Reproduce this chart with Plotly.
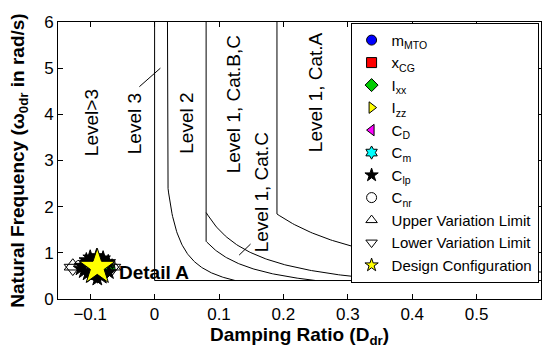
import numpy as np
import plotly.graph_objects as go

# ---- Flying-quality requirement limits (MIL-F-8785C, dutch roll) ----
req_names = ["Level 3", "Level 2", "Level 1, Cat.C", "Level 1, Cat.B,C", "Level 1, Cat.A"]
req_zeta_min = [0.0, 0.02, 0.08, 0.08, 0.19]
req_zw_min = [None, 0.05, 0.10, 0.15, 0.35]
req_w_min = [0.4, 0.4, 0.4, 0.4, 0.4]
req_w_top = [6.0, 6.0, 1.875, 6.0, 6.0]

# ---- Region labels ----
label_text = ["Level>3", "Level 3", "Level 2", "Level 1, Cat.B,C", "Level 1, Cat.C", "Level 1, Cat.A"]
label_x = [-0.098, -0.031, 0.049, 0.122, 0.166, 0.249]
label_y = [3.82, 3.80, 3.80, 4.22, 2.30, 4.48]

# leader lines (label end -> target)
leader_x0 = [-0.026, 0.129]
leader_y0 = [4.57, 0.92]
leader_x1 = [0.009, 0.149]
leader_y1 = [5.00, 1.19]

# ---- Sensitivity points (Detail A) ----
params = ["m<sub>MTO</sub>", "x<sub>CG</sub>", "I<sub>xx</sub>", "I<sub>zz</sub>",
          "C<sub>D</sub>", "C<sub>m</sub>", "C<sub>lp</sub>", "C<sub>nr</sub>"]
param_x = [
    [-0.080, -0.097, -0.084, -0.093],
    [-0.091, -0.087, -0.095, -0.083],
    [-0.073, -0.071, -0.075, -0.078, -0.070, -0.074],
    [-0.084, -0.094, -0.088],
    [-0.089, -0.086],
    [-0.090, -0.088],
    [-0.113, -0.106, -0.100, -0.090, -0.080, -0.072, -0.110, -0.098, -0.082, -0.071, -0.089, -0.115, -0.104],
    [-0.108, -0.100, -0.078, -0.069, -0.117],
]
param_y = [
    [0.66, 0.72, 0.63, 0.75],
    [0.70, 0.68, 0.74, 0.64],
    [0.76, 0.70, 0.64, 0.82, 0.67, 0.58],
    [0.62, 0.77, 0.80],
    [0.69, 0.71],
    [0.70, 0.68],
    [0.72, 0.84, 0.90, 0.93, 0.88, 0.80, 0.60, 0.50, 0.48, 0.58, 0.44, 0.66, 0.55],
    [0.66, 0.54, 0.55, 0.74, 0.74],
]

upper_lim_x = [-0.127, -0.066]
upper_lim_y = [0.71, 0.71]
lower_lim_x = [-0.127, -0.066]
lower_lim_y = [0.67, 0.67]

design_x = [-0.089]
design_y = [0.69]

detail_text = "Detail A"
detail_x = -0.058
detail_y = 0.58

# ---- styles ----
p_symbols = ["circle", "square", "diamond", "triangle-right", "triangle-left",
             "hexagram", "star", "circle-open"]
p_colors = ["#0000ff", "#ff0000", "#00cc00", "#ffff00", "#ff00ff", "#00ffff", "#000000", "#000000"]
p_sizes = [9, 9, 9, 9, 9, 9, 11, 9]

XMAX = 0.6
YMAX = 6.0

fig = go.Figure()

# requirement boundaries
for name, zmin, zw, wmin, wtop in zip(req_names, req_zeta_min, req_zw_min, req_w_min, req_w_top):
    if zw is None:
        xs = [zmin, zmin]
        ys = [wtop, wmin]
    else:
        w_corner = zw / zmin
        z_end = min(zw / wmin, XMAX)
        zc = np.linspace(zmin, z_end, 120)
        xs = [zmin, zmin] + list(zc)
        ys = [wtop, w_corner] + list(zw / zc)
    fig.add_trace(go.Scatter(x=xs, y=ys, mode="lines",
                             line=dict(color="black", width=1),
                             showlegend=False, hoverinfo="skip"))
# common minimum frequency line
fig.add_trace(go.Scatter(x=[req_zeta_min[0], XMAX], y=[req_w_min[0], req_w_min[0]],
                         mode="lines", line=dict(color="black", width=1),
                         showlegend=False, hoverinfo="skip"))

# variation limit triangles
fig.add_trace(go.Scatter(x=upper_lim_x, y=upper_lim_y, mode="markers",
                         marker=dict(symbol="triangle-up-open", size=15, color="black",
                                     line=dict(width=1)),
                         showlegend=False))
fig.add_trace(go.Scatter(x=lower_lim_x, y=lower_lim_y, mode="markers",
                         marker=dict(symbol="triangle-down-open", size=15, color="black",
                                     line=dict(width=1)),
                         showlegend=False))

# parameter points
for i, name in enumerate(params):
    sym = p_symbols[i]
    if sym == "circle-open":
        mk = dict(symbol=sym, size=p_sizes[i], color="black", line=dict(width=1))
    else:
        mk = dict(symbol=sym, size=p_sizes[i], color=p_colors[i], line=dict(color="black", width=1))
    fig.add_trace(go.Scatter(x=param_x[i], y=param_y[i], mode="markers", name=name,
                             marker=mk, showlegend=False))
    lg = dict(mk)
    lg["size"] = 10
    fig.add_trace(go.Scatter(x=[None], y=[None], mode="markers", name=name, marker=lg))

# legend entries for limits
fig.add_trace(go.Scatter(x=[None], y=[None], mode="markers", name="Upper Variation Limit",
                         marker=dict(symbol="triangle-up-open", size=10, color="black",
                                     line=dict(width=1))))
fig.add_trace(go.Scatter(x=[None], y=[None], mode="markers", name="Lower Variation Limit",
                         marker=dict(symbol="triangle-down-open", size=10, color="black",
                                     line=dict(width=1))))

# design configuration
fig.add_trace(go.Scatter(x=design_x, y=design_y, mode="markers", showlegend=False,
                         marker=dict(symbol="star", size=27, color="#ffff00",
                                     line=dict(color="black", width=1))))
fig.add_trace(go.Scatter(x=[None], y=[None], mode="markers", name="Design Configuration",
                         marker=dict(symbol="star", size=10, color="#ffff00",
                                     line=dict(color="black", width=1))))

annotations = []
for t, x, y in zip(label_text, label_x, label_y):
    annotations.append(dict(x=x, y=y, xref="x", yref="y", text=t, showarrow=False,
                            textangle=-90, xanchor="center", yanchor="middle",
                            font=dict(size=19, color="black")))
for x0, y0, x1, y1 in zip(leader_x0, leader_y0, leader_x1, leader_y1):
    annotations.append(dict(x=x1, y=y1, ax=x0, ay=y0, xref="x", yref="y",
                            axref="x", ayref="y", text="", showarrow=True,
                            arrowhead=0, arrowwidth=1, arrowcolor="black"))
annotations.append(dict(x=detail_x, y=detail_y, xref="x", yref="y", text="<b>" + detail_text + "</b>",
                        showarrow=False, xanchor="left", yanchor="middle",
                        font=dict(size=19, color="black")))

fig.update_layout(
    width=544, height=350,
    margin=dict(l=58, r=3, t=22, b=51),
    paper_bgcolor="white", plot_bgcolor="white",
    font=dict(family="Liberation Sans, Arial, sans-serif", color="black", size=17),
    annotations=annotations,
    legend=dict(x=0.995, y=0.997, xanchor="right", yanchor="top",
                bgcolor="white", bordercolor="black", borderwidth=1,
                font=dict(size=15, color="black"), itemwidth=30,
                tracegroupgap=0),
    xaxis=dict(range=[-0.15, XMAX], tickmode="array",
               tickvals=[-0.1, 0, 0.1, 0.2, 0.3, 0.4, 0.5],
               ticktext=["\u22120.1", "0", "0.1", "0.2", "0.3", "0.4", "0.5"],
               ticks="inside", ticklen=5, tickcolor="black", mirror="allticks",
               showline=True, linecolor="black", linewidth=1, showgrid=False,
               zeroline=False, tickfont=dict(size=17),
               title=dict(text="<b>Damping Ratio (D<sub>dr</sub>)</b>", font=dict(size=19),
                          standoff=0)),
    yaxis=dict(range=[0, YMAX], dtick=1, ticks="inside", ticklen=5, tickcolor="black",
               mirror="allticks", showline=True, linecolor="black", linewidth=1,
               showgrid=False, zeroline=False, tickfont=dict(size=17),
               title=dict(text="<b>Natural Frequency (\u03c9<sub>0dr</sub> in rad/s)</b>",
                          font=dict(size=19), standoff=14)),
)

fig.write_html("out.html")
